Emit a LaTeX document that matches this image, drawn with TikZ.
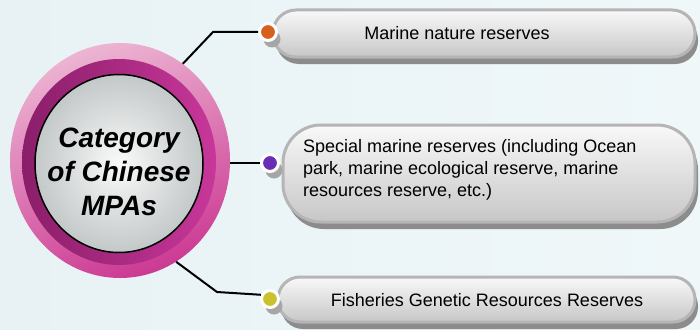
\documentclass[tikz,border=0pt]{standalone}
\usepackage{xcolor}
\usepackage{fontspec}
\setsansfont{Liberation Sans}
\usepackage{tikz}
\usetikzlibrary{positioning,shapes.geometric,shadows}
\definecolor{mybg}{HTML}{E8F2F5}
\definecolor{mybgb}{HTML}{EFF7F9}
\definecolor{mypink}{HTML}{ECB4D2}
\definecolor{mymagenta}{HTML}{CC3A93}
\definecolor{mydark}{HTML}{8A1E69}
\definecolor{myrose}{HTML}{C8379A}
\definecolor{mydisk}{HTML}{C3C8C8}
\definecolor{myborder}{HTML}{B5B5B5}
\definecolor{myorange}{HTML}{D8601E}
\definecolor{mypurple}{HTML}{6A2DB5}
\definecolor{myyellow}{HTML}{C9C22C}

\begin{document}
\begin{tikzpicture}[x=1pt,y=-1pt,>=stealth,font=\sffamily]
    \tikzstyle{pill} = [shape=rectangle, draw=myborder, line width=3pt, top color=white!95!gray, bottom color=black!22, inner sep=0, drop shadow={shadow xshift=3pt, shadow yshift=-7pt, fill=black!45, opacity=1}]
    \tikzstyle{bullet} = [shape=circle, draw=white, line width=3pt, minimum size=17pt, inner sep=0, drop shadow={shadow xshift=4pt, shadow yshift=-7pt, fill=black!35, opacity=1}]
    \tikzstyle{label} = [inner sep=0, font=\sffamily\fontsize{18}{22}\selectfont]
    \tikzstyle{link} = [black, line width=2pt]
    \fill[left color=mybg, right color=mybgb] (0,0) rectangle (700,329);
    \useasboundingbox (0,0) rectangle (700,329);

    \node[ellipse, minimum width=220pt, minimum height=235pt, inner sep=0, top color=mypink, bottom color=mymagenta, shading angle=20] (hub) at (120,160.5) {};
    \node[ellipse, minimum width=194pt, minimum height=206pt, inner sep=0, left color=mydark, right color=myrose] (ring) at (119,162) {};
    \node[ellipse, minimum width=168pt, minimum height=178pt, inner sep=0, draw=black, line width=1.5pt, inner color=white!96!gray, outer color=mydisk] (disk) at (119,163.5) {};
    \node[align=center, font=\sffamily\bfseries\itshape\fontsize{28}{34}\selectfont] (hubtext) at (119,172) {Category\\of Chinese\\MPAs};

    \node[pill, rounded corners=23pt, minimum width=422pt, minimum height=47pt] (boxA) at (484,33.5) {};
    \node[pill, rounded corners=38pt, minimum width=412pt, minimum height=97pt] (boxB) at (489,173.5) {};
    \node[pill, rounded corners=22pt, minimum width=417pt, minimum height=45pt] (boxC) at (486.5,299.5) {};
    \node[label] (txtA) at (457,33) {Marine nature reserves};
    \node[label, anchor=west, align=left] (txtB) at (303,170) {Special marine reserves (including Ocean\\park, marine ecological reserve, marine\\resources reserve, etc.)};
    \node[label] (txtC) at (487,300) {Fisheries Genetic Resources Reserves};

    \node[bullet, fill=myorange] (dotA) at (268,32) {};
    \node[bullet, fill=mypurple] (dotB) at (270,163) {};
    \node[bullet, fill=myyellow] (dotC) at (270,299) {};

    \coordinate (kneeA) at (213,32);
    \coordinate (kneeC) at (217,292);
    \draw[link] (hub.57) -- (kneeA) -- (dotA);
    \draw[link] (dotB -| hub.east) -- (dotB);
    \draw[link] (hub.-61) -- (kneeC) -- (dotC.155);
\end{tikzpicture}
\end{document}
